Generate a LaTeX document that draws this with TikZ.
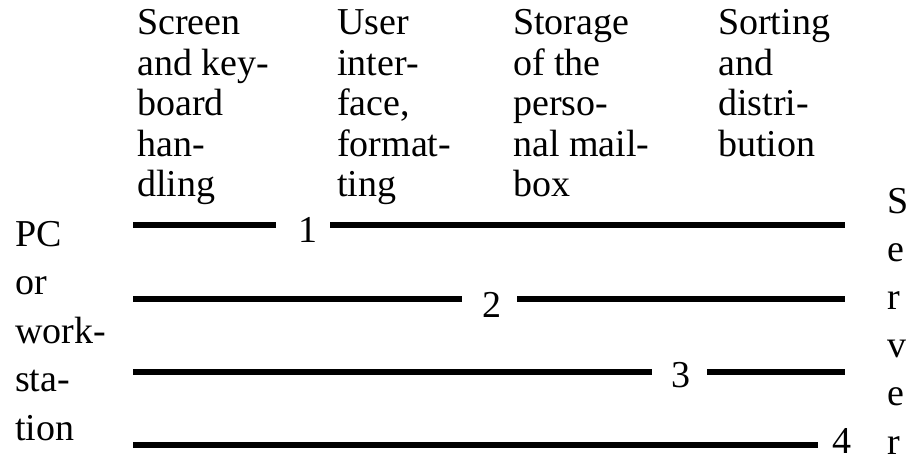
\documentclass[tikz,border=0pt]{standalone}
\usepackage{fontspec}
\setmainfont{Liberation Serif}
\begin{document}
\begin{tikzpicture}[x=1pt,y=-1pt,
  hdr/.style={anchor=base west,inner sep=0pt,align=left,font=\fontsize{38}{40.5}\selectfont},
  side/.style={anchor=base west,inner sep=0pt,align=left,font=\fontsize{38}{48.5}\selectfont},
  digit/.style={anchor=base,inner sep=0pt,font=\fontsize{38}{40}\selectfont},
  link/.style={line width=6pt}]
\useasboundingbox (0,0) rectangle (910,462);
% column headers (anchored at the baseline of their last line)
\node[hdr] (h1) at (137,197) {Screen\\and key-\\board\\han-\\dling};
\node[hdr] (h2) at (337,197) {User\\inter-\\face,\\format-\\ting};
\node[hdr] (h3) at (513,197) {Storage\\of the\\perso-\\nal mail-\\box};
\node[hdr] (h4) at (718,156.5) {Sorting\\and\\distri-\\bution};
% side labels
\node[side] (pc) at (15,440) {PC\\or\\work-\\sta-\\tion};
\node[side,font=\fontsize{38}{48.2}\selectfont] (srv) at (887,454) {S\\e\\r\\v\\e\\r};
% level numbers
\node[digit] (n1) at (308,243) {1};
\node[digit] (n2) at (492,317) {2};
\node[digit] (n3) at (681,387) {3};
\node[digit] (n4) at (842,453) {4};
% line end points
\coordinate (a1) at (133,225); \coordinate (b1) at (276,225);
\coordinate (c1) at (330,225); \coordinate (d1) at (845,225);
\coordinate (a2) at (133,299); \coordinate (b2) at (462,299);
\coordinate (c2) at (517,299); \coordinate (d2) at (845,299);
\coordinate (a3) at (133,372); \coordinate (b3) at (652,372);
\coordinate (c3) at (707,372); \coordinate (d3) at (845,372);
\coordinate (a4) at (133,445); \coordinate (b4) at (818,445);
\draw[link] (a1) -- (b1); \draw[link] (c1) -- (d1);
\draw[link] (a2) -- (b2); \draw[link] (c2) -- (d2);
\draw[link] (a3) -- (b3); \draw[link] (c3) -- (d3);
\draw[link] (a4) -- (b4);
\end{tikzpicture}
\end{document}
